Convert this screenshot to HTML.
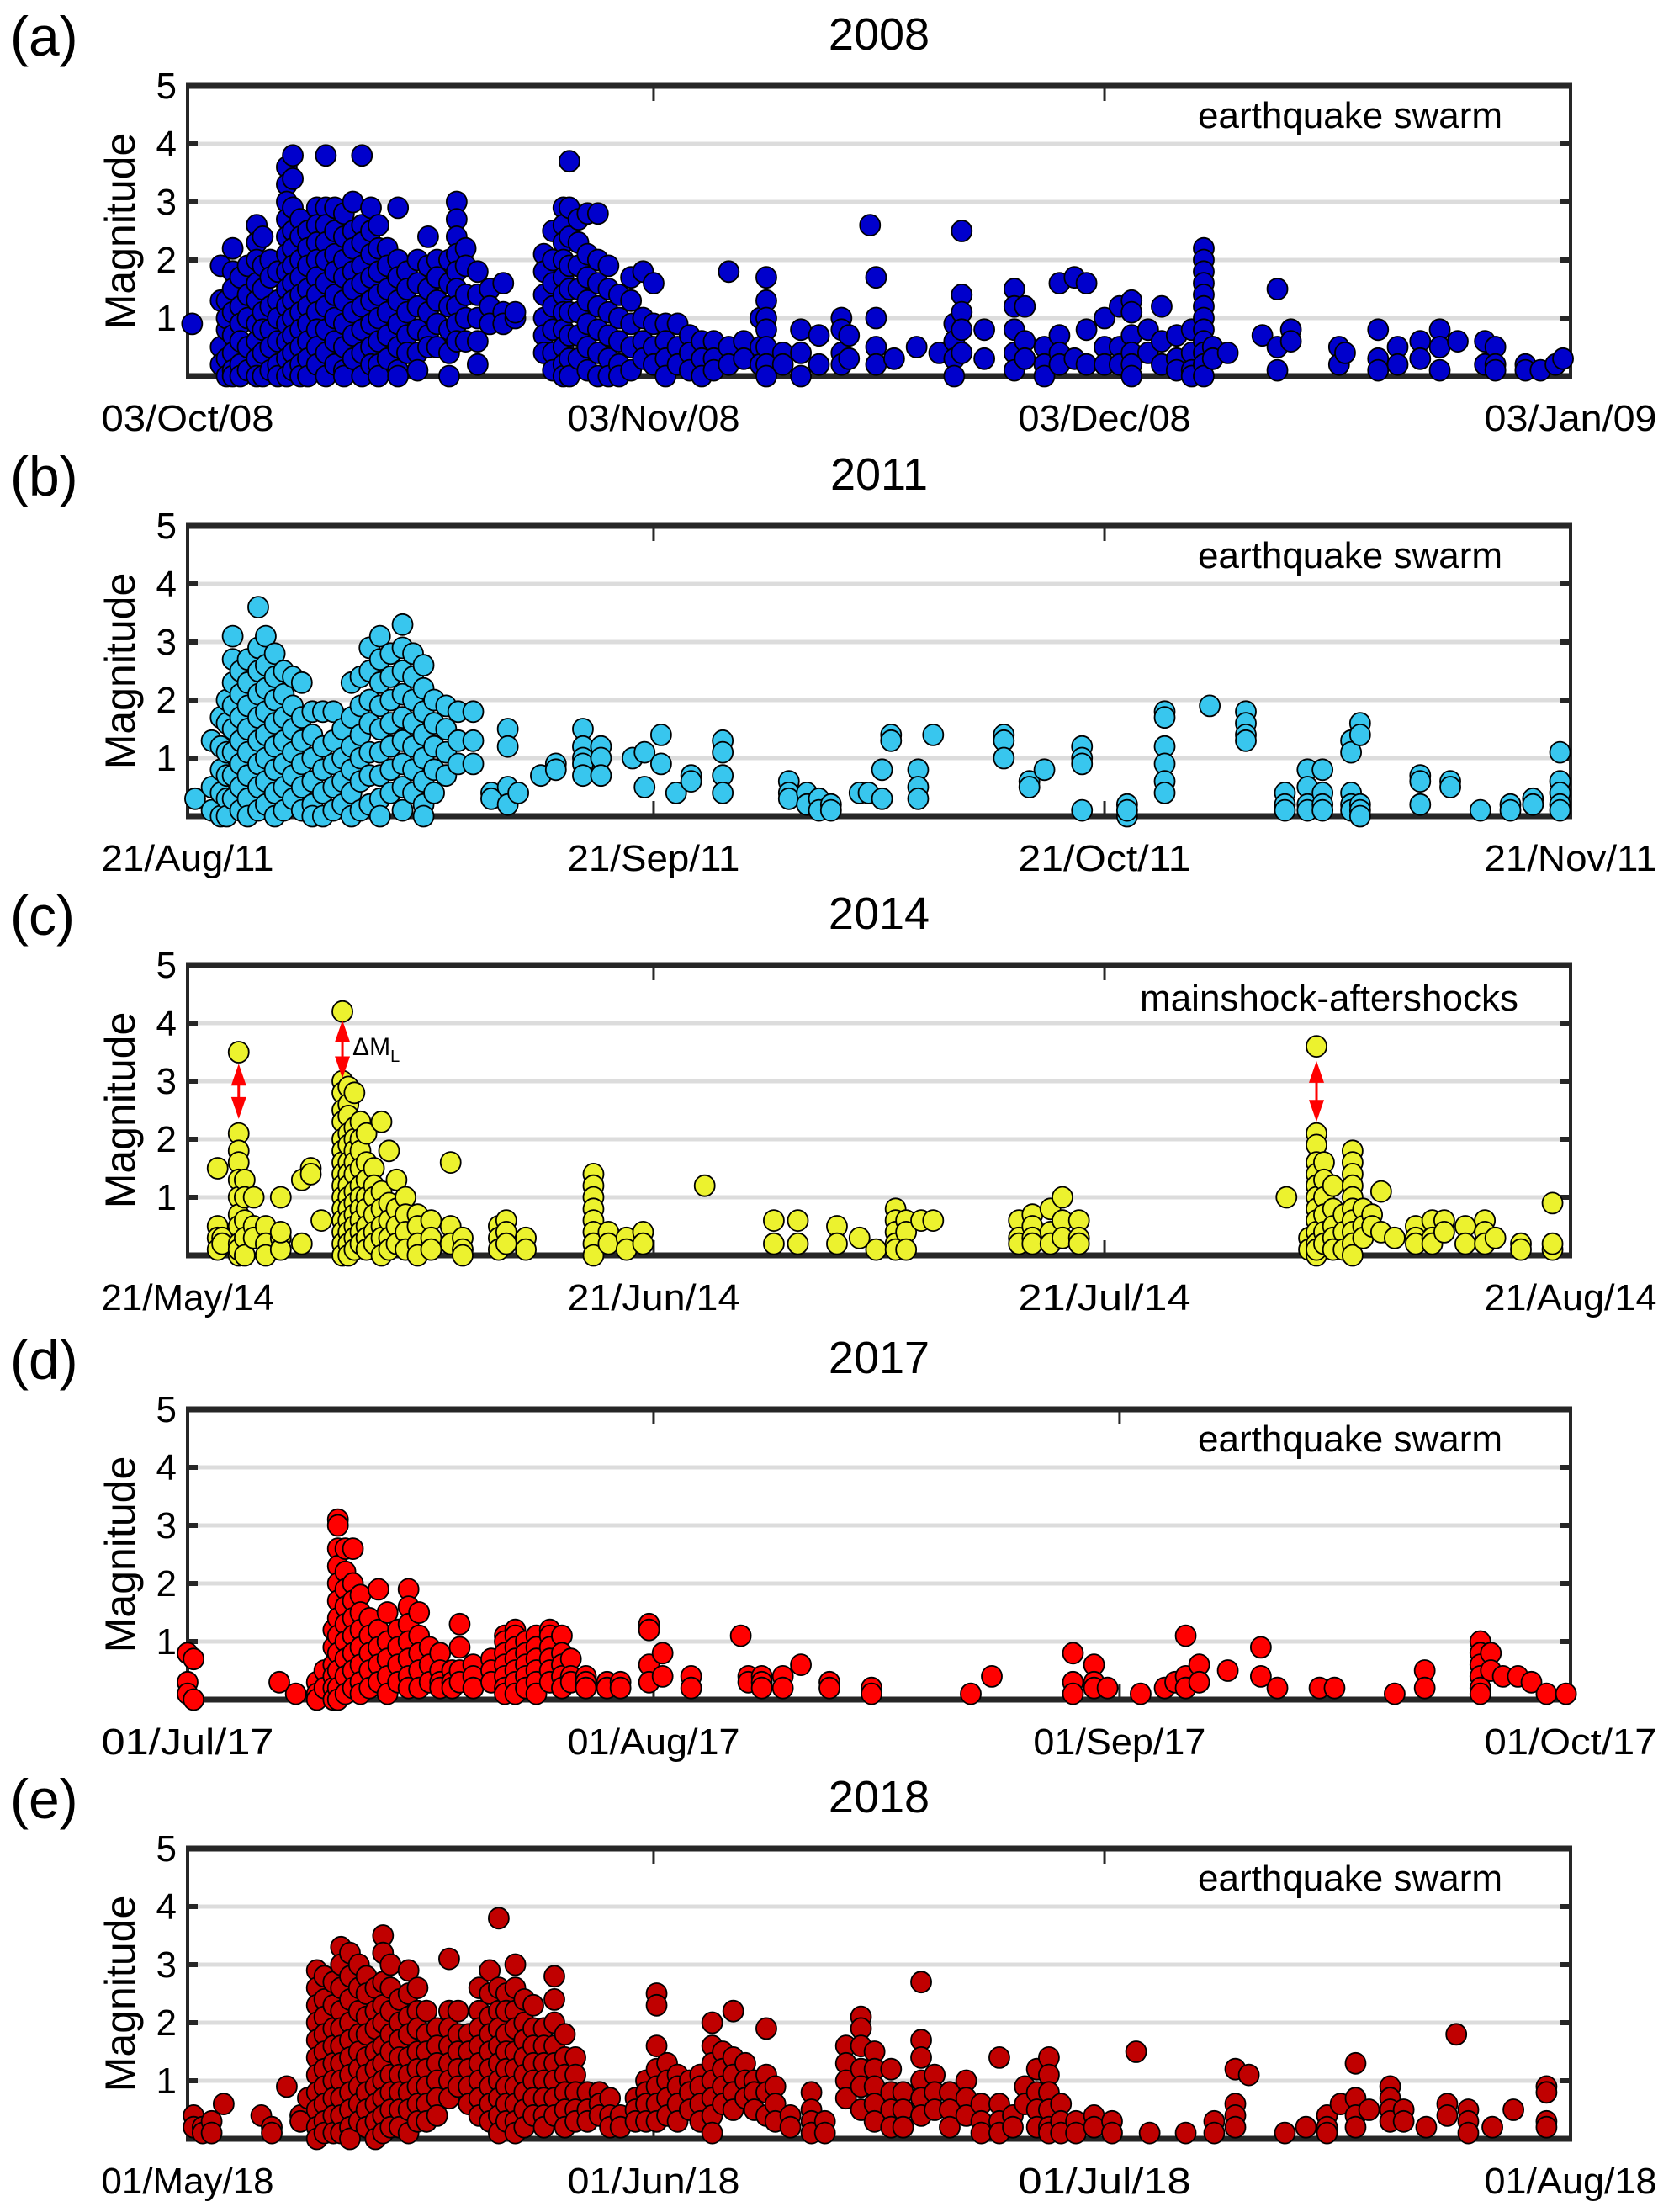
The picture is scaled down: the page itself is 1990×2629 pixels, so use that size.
<!DOCTYPE html>
<html><head><meta charset="utf-8"><style>
html,body{margin:0;padding:0;background:#fff;}
svg{display:block;}
text{font-family:"Liberation Sans Narrow","Liberation Sans",sans-serif;fill:#000;}
</style></head>
<body>
<svg id="fig" width="1990" height="2629" viewBox="0 0 1990 2629" xmlns="http://www.w3.org/2000/svg"></svg>
<script>
// ---------- data (day offset from start date, magnitudes per day-column) ----------
const tickLabelsA = ["03/Oct/08","03/Nov/08","03/Dec/08","03/Jan/09"];
const tickDaysA = [0,31,61,92];
const colDaysA = [0.3,2.2,2.6,3.0,3.5,4.0,4.6,5.0,5.5,6.0,6.6,7.0,7.5,8.0,8.6,9.2,9.8,10.4,11.0,11.6,12.2,12.7,13.3,14.0,14.6,15.3,16.0,16.6,17.4,17.9,18.5,19.3,20.1,21.0,21.8,23.7,24.3,25.0,25.4,26.0,26.6,27.3,28.0,28.7,29.5,30.3,31.0,31.8,32.6,33.4,34.2,35.0,36.0,37.0,38.1,38.5,39.6,40.8,42.0,43.5,44.0,45.4,45.8,47.0,48.5,50.0,51.0,51.5,53.0,55.0,55.7,57.0,58.0,59.0,59.8,61.0,62.0,62.8,63.9,64.8,65.8,66.8,67.6,68.2,69.2,71.5,72.5,73.4,76.6,77.0,79.2,80.5,82.0,83.3,84.5,86.3,87.0,89.0,90.0,91.0,91.5];
const colMagsA = [[0.9],[1.9,1.3,0.5,0.2],[1.3,0.8,0.3,0,1.0],[2.2,1.8,1.5,1.1,0.7,0.4,0.1,0],[1.7,1.2,0.9,0.6,0.2,0],[1.9,1.4,1.0,0.5,0.1],[2.6,2.3,2.0,1.6,1.3,0.9,0.6,0.3,0],[2.4,1.9,1.5,1.1,0.8,0.4,0],[2.0,1.7,1.2,0.8,0.5,0.1],[1.8,1.3,1.0,0.6,0.2,0],[3.6,3.3,3.0,2.7,2.4,2.1,1.8,1.5,1.2,0.9,0.6,0.3,0],[3.8,3.4,2.9,2.5,2.2,1.9,1.6,1.3,1.0,0.7,0.4,0.1],[2.7,2.4,2.0,1.7,1.4,1.1,0.8,0.5,0.2,0],[2.5,2.2,1.9,1.5,1.2,0.9,0.6,0.3,0],[2.9,2.6,2.3,2.0,1.7,1.4,1.1,0.8,0.5,0.2],[3.8,2.9,2.6,2.3,2.0,1.6,1.2,0.8,0.4,0],[2.9,2.5,2.1,1.8,1.4,1.0,0.6,0.2],[2.8,2.4,2.0,1.7,1.3,0.9,0.5,0.1,0],[3.0,2.5,2.2,1.8,1.5,1.1,0.7,0.3],[3.8,2.6,2.3,1.9,1.6,1.2,0.8,0.4,0],[2.9,2.5,2.1,1.7,1.3,0.9,0.5,0.2],[2.6,2.2,1.8,1.4,1.0,0.6,0.2,0],[2.2,1.9,1.5,1.1,0.7,0.3],[2.9,2.0,1.7,1.3,0.9,0.5,0.1,0],[1.8,1.5,1.1,0.7,0.4],[2.0,1.6,1.2,0.8,0.4,0.1],[2.4,1.9,1.5,1.1,0.7,0.5],[2.0,1.7,1.3,0.9,0.5],[2.0,1.6,1.2,0.8,0.4,0],[3.0,2.7,2.4,2.1,1.8,1.5,1.2,0.9,0.6],[2.2,1.9,1.4,1.0,0.6],[1.8,1.4,1.0,0.6,0.2],[1.5,1.2,0.9],[1.6,1.1,0.9],[1.0,1.1],[2.1,1.8,1.4,1.0,0.7,0.4],[2.5,2.0,1.6,1.2,0.8,0.4,0.1],[2.9,2.6,2.3,2.0,1.7,1.4,1.1,0.8,0.5,0.2,0],[3.7,2.9,2.4,1.9,1.5,1.1,0.7,0.3,0],[2.7,2.3,1.9,1.5,1.1,0.7,0.3],[2.8,2.1,1.7,1.3,0.9,0.5,0.1],[2.8,2.0,1.6,1.2,0.8,0.4,0],[1.9,1.5,1.1,0.7,0.3,0],[1.4,1.0,0.6,0.2,0],[1.7,1.3,0.9,0.5,0.1],[1.8,1.0,0.6,0.3],[1.6,0.9,0.5,0.2],[0.9,0.6,0.3,0],[0.9,0.5,0.2],[0.7,0.4,0.1],[0.6,0.3,0],[0.6,0.3,0.1],[1.8,0.5,0.2],[0.6,0.3],[1.0,0.5,0.2],[1.7,1.3,1.0,0.8,0.5,0.2,0],[0.4,0.2],[0.8,0.4,0],[0.7,0.2],[1.0,0.8,0.4,0.2],[0.7,0.3],[2.6],[1.7,1.0,0.5,0.2],[0.3],[0.5],[0.4],[0.9,0.6,0.3,0],[2.5,1.4,1.1,0.8,0.4],[0.8,0.3],[1.5,1.2,0.8,0.4,0.1],[1.2,0.6,0.3],[0.5,0.2,0],[1.6,0.7,0.4,0.2],[1.7,0.3],[1.6,0.8,0.2],[1.0,0.5,0.2],[1.2,0.5,0.2],[1.3,1.1,0.7,0.4,0.2,0],[0.8,0.4],[1.2,0.6,0.2],[0.7,0.3,0.1],[0.8,0.4,0.1,0],[2.2,2.0,1.8,1.6,1.4,1.2,1.0,0.8,0.6,0.4,0.2,0],[0.5,0.3],[0.4],[0.7],[1.5,0.5,0.1],[0.8,0.6],[0.5,0.2],[0.4],[0.8,0.3,0.1],[0.5,0.2],[0.6,0.3],[0.8,0.5,0.1],[0.6],[0.6,0.2],[0.5,0.2,0.1],[0.2,0.1],[0.1],[0.2],[0.3]];

const tickLabelsB = ["21/Aug/11","21/Sep/11","21/Oct/11","21/Nov/11"];
const tickDaysB = [0,31,61,92];
const colDaysB = [0.5,1.6,2.2,2.6,3.0,3.5,4.0,4.7,5.2,5.8,6.4,7.0,7.6,8.3,9.0,9.7,10.3,10.9,11.5,12.1,12.8,13.5,14.3,15.0,15.7,16.4,17.2,18.0,19.0,20.2,21.3,22.0,23.5,24.5,26.3,27.5,29.6,30.4,31.5,32.5,33.5,35.6,40.0,41.2,42.0,42.8,44.7,45.3,46.2,46.8,48.6,49.6,54.3,56.0,57.0,59.5,62.5,65.0,68.0,70.4,73.0,74.5,75.5,77.4,78.0,82.0,84.0,86.0,88.0,89.5,91.3];
const colMagsB = [[0.3],[1.3,0.5,0.1],[1.7,1.2,0.8,0.4,0],[2.0,1.6,1.1,0.7,0.3,0],[3.1,2.7,2.3,1.9,1.5,1.1,0.7,0.3],[2.5,2.1,1.7,1.3,0.9,0.5,0.1],[2.7,2.3,1.9,1.5,1.1,0.7,0.3,0],[3.6,2.9,2.5,2.1,1.7,1.3,0.9,0.5,0.1],[3.1,2.6,2.2,1.8,1.4,1.0,0.6,0.2],[2.8,2.4,2.0,1.6,1.2,0.8,0.4,0],[2.5,2.1,1.7,1.3,0.9,0.5,0.1],[2.4,1.9,1.5,1.1,0.7,0.3],[2.3,1.7,1.3,0.9,0.5,0.1],[1.8,1.4,1.0,0.6,0.2,0],[1.8,1.2,0.8,0.4,0],[1.8,1.3,0.9,0.5,0.1],[1.5,1.0,0.6,0.2],[2.3,1.7,1.2,0.8,0.4,0],[2.4,1.9,1.4,1.0,0.6,0.1],[2.9,2.5,2.0,1.6,1.1,0.7,0.2],[3.1,2.7,2.3,1.9,1.5,1.1,0.7,0.3,0],[2.8,2.4,2.0,1.6,1.2,0.8,0.4],[3.3,2.9,2.5,2.1,1.7,1.3,0.9,0.5,0.1],[2.8,2.4,2.0,1.6,1.2,0.8,0.4],[2.6,2.2,1.8,1.4,1.0,0.6,0.2,0],[2.0,1.6,1.2,0.8,0.4],[1.9,1.5,1.1,0.7],[1.8,1.3,0.9],[1.8,1.3,0.9],[0.4,0.3],[1.5,1.2,0.5,0.2],[0.4],[0.7],[0.9,0.8],[1.5,1.2,1.0,0.9,0.7],[1.2,1.0,0.7],[1.0],[1.1,0.5],[1.4,0.9],[0.4],[0.7,0.6],[1.3,1.1,0.7,0.4],[0.6,0.4,0.3],[0.4,0.2],[0.3,0.1],[0.2,0.1],[0.4],[0.4],[0.8,0.3],[1.4,1.3],[0.8,0.5,0.3],[1.4],[1.4,1.3,1.0],[0.6,0.5],[0.8],[1.2,1.0,0.9,0.1],[0.2,0.0,0.1],[1.8,1.7,1.2,0.9,0.6,0.4],[1.9],[1.8,1.6,1.4,1.3],[0.4,0.2,0.1],[0.8,0.5,0.2,0.1],[0.8,0.4,0.2,0.1],[1.3,1.1,0.4,0.2,0.1],[1.6,1.4,0.2,0.1,0],[0.7,0.6,0.2],[0.6,0.5],[0.1],[0.2,0.1],[0.3,0.2],[1.1,0.6,0.4,0.2,0.1]];

const tickLabelsC = ["21/May/14","21/Jun/14","21/Jul/14","21/Aug/14"];
const tickDaysC = [0,31,61,92];
const colDaysC = [2.0,2.3,3.4,3.8,4.4,5.2,6.2,7.6,8.2,8.9,10.3,10.7,11.1,11.5,11.9,12.4,12.9,13.4,13.9,14.5,15.3,16.2,17.5,18.3,20.7,21.2,22.5,27.0,28.0,29.2,30.3,34.4,39.0,40.6,43.2,44.7,45.8,47.1,47.8,48.8,49.6,55.3,56.2,57.4,58.2,59.3,73.1,74.6,75.1,75.6,76.2,76.9,77.5,78.2,78.8,79.4,80.3,81.7,82.8,83.6,85.0,86.3,87.0,88.7,90.8];
const colMagsC = [[1.5,0.5,0.3,0.1],[0.3,0.2],[3.5,2.1,1.8,1.6,1.3,1.0,0.7,0.5,0.2,0,0.1],[1.3,1.0,0.6,0.3,0],[1.0,0.5,0.3],[0.5,0.2,0],[1.0,0.3,0.1,0.4],[1.3,0.2],[1.5,1.4],[0.6],[4.2,3.0,2.8,2.5,2.3,2.0,1.8,1.6,1.4,1.2,1.0,0.8,0.6,0.4,0.2,0],[2.9,2.6,2.4,2.1,1.9,1.6,1.4,1.2,1.0,0.8,0.6,0.4,0.2,0],[2.8,2.2,2.0,1.8,1.6,1.4,1.1,0.9,0.7,0.5,0.3,0.1],[2.3,2.0,1.8,1.5,1.2,1.0,0.8,0.6,0.4,0.2],[2.1,1.6,1.3,1.0,0.8,0.5,0.3,0.1],[1.5,1.2,1.0,0.7,0.4,0.2],[2.3,1.1,0.8,0.5,0.3,0],[1.8,0.9,0.6,0.3,0.1],[1.3,0.8,0.5,0.2],[1.0,0.7,0.4,0.1],[0.7,0.5,0.2,0],[0.6,0.3,0.1],[1.6,0.5,0.2],[0.3,0.1,0],[0.5,0.3,0.1],[0.6,0.4,0.2],[0.3,0.1],[1.4,1.2,1.0,0.8,0.6,0.4,0.2,0],[0.4,0.2],[0.3,0.1],[0.4,0.2],[1.2],[0.6,0.2],[0.6,0.2],[0.5,0.2],[0.3],[0.1],[0.8,0.6,0.4,0.2,0.1],[0.6,0.4,0.1],[0.6],[0.6],[0.6,0.3,0.2],[0.7,0.5,0.3,0.2],[0.8,0.4,0.2],[1.0,0.6,0.3],[0.6,0.3,0.2],[1.0],[0.3,0.1],[3.6,2.1,1.9,1.6,1.4,1.2,1.0,0.8,0.6,0.4,0.2,0,0.1],[1.6,1.3,1.0,0.7,0.4,0.2],[1.2,0.8,0.5,0.3,0.1],[0.7,0.4,0.1],[1.8,1.6,1.4,1.2,1.0,0.8,0.6,0.4,0.2,0],[0.8,0.5,0.3],[0.7,0.5],[1.1,0.4],[0.3],[0.5,0.3,0.2],[0.6,0.3,0.2],[0.6,0.4],[0.5,0.2],[0.6,0.4,0.2],[0.3],[0.2,0.1],[0.9,0.1,0.2]];
const arrowDaysC = [3.4,10.3,75.1];
const arrowTopC = [3.3,4.05,3.35];
const arrowBotC = [2.35,3.05,2.3];

const tickLabelsD = ["01/Jul/17","01/Aug/17","01/Sep/17","01/Oct/17"];
const tickDaysD = [0,31,62,92];
const colDaysD = [0.0,0.4,6.1,7.2,8.6,9.1,9.7,10.0,10.5,11.0,11.5,12.1,12.7,13.3,14.0,14.7,15.4,16.1,16.8,17.6,18.1,19.0,20.2,21.1,21.8,22.5,23.2,24.1,24.9,25.5,26.5,27.9,28.8,30.7,31.6,33.5,36.8,37.3,38.2,39.6,40.8,42.7,45.5,52.1,53.5,58.9,60.3,61.2,63.4,65.0,65.7,66.4,67.3,69.2,71.4,72.5,75.3,76.3,80.3,82.3,86.0,86.7,87.5,88.5,89.4,90.4,91.7];
const colMagsD = [[0.8,0.3,0.1],[0.7,0],[0.3],[0.1],[0.3,0.1,0],[0.5,0.2],[1.2,0.9,0.6,0.4,0.2,0],[3.1,3.0,2.6,2.3,2.0,1.7,1.4,1.1,0.8,0.5,0.2,0],[2.6,2.2,1.9,1.6,1.3,1.0,0.7,0.4,0.1],[2.6,2.0,1.7,1.4,1.1,0.8,0.5,0.2],[1.8,1.5,1.2,0.9,0.6,0.3,0.1],[1.4,1.1,0.8,0.5,0.2],[1.9,1.2,0.9,0.6,0.3],[1.5,1.0,0.7,0.4,0.1],[1.2,0.9,0.6,0.3],[1.9,1.6,1.3,1.0,0.7,0.4,0.2],[1.5,1.1,0.8,0.5,0.2],[0.9,0.6,0.3],[0.8,0.5,0.3,0.2],[0.5,0.3,0.2],[1.3,0.9,0.5,0.3],[0.6,0.4,0.2],[0.7,0.5,0.3],[1.1,1.0,0.8,0.6,0.4,0.2,0.1],[1.2,1.1,0.9,0.7,0.5,0.3,0.1],[1.0,0.8,0.6,0.4,0.2],[1.1,0.9,0.7,0.5,0.3,0.1],[1.2,1.1,0.9,0.7,0.5,0.3],[1.1,0.8,0.6,0.4,0.2],[0.7,0.4,0.3],[0.4,0.3,0.2],[0.3,0.2],[0.3,0.2],[1.3,1.2,0.6,0.3],[0.8,0.4],[0.4,0.2],[1.1],[0.4,0.3],[0.4,0.3,0.2],[0.4,0.2],[0.6],[0.3,0.2],[0.2,0.1],[0.1],[0.4],[0.8,0.3,0.1],[0.6,0.3,0.2],[0.2],[0.1],[0.2],[0.3],[1.1,0.4,0.2],[0.6,0.3],[0.5],[0.9,0.4],[0.2],[0.2],[0.2],[0.1],[0.5,0.2],[1.0,0.8,0.6,0.4,0.2,0.1],[0.8,0.5],[0.4],[0.4],[0.3],[0.1],[0.1]];

const tickLabelsE = ["01/May/18","01/Jun/18","01/Jul/18","01/Aug/18"];
const tickDaysE = [0,31,61,92];
const colDaysE = [0.4,1.0,1.6,2.4,4.9,5.6,6.6,7.5,8.0,8.6,9.1,9.7,10.2,10.8,11.4,11.9,12.5,13.0,13.5,14.1,14.7,15.3,15.9,16.6,17.4,18.0,18.7,19.4,20.1,20.7,21.2,21.8,22.4,23.0,23.7,24.4,25.1,25.8,26.6,27.4,28.1,28.8,29.8,30.5,31.2,31.9,32.6,33.4,34.1,34.9,35.6,36.3,37.1,37.7,38.5,39.1,40.1,41.5,42.4,43.8,44.8,45.7,46.8,47.6,48.8,49.7,50.7,51.8,52.8,54.0,54.9,55.7,56.5,57.3,58.1,59.1,60.3,61.5,63.1,64.0,66.4,68.3,69.7,70.6,73.0,74.4,75.8,76.7,77.7,78.6,80.0,80.9,82.4,83.8,84.4,85.2,86.8,88.2,90.4];
const colMagsE = [[0.4,0.2],[0.2,0.1],[0.3,0.1],[0.6],[0.4],[0.2,0.1],[0.9],[0.4,0.3],[0.7],[2.9,2.6,2.3,2.0,1.7,1.4,1.1,0.8,0.5,0.2,0],[2.8,2.4,2.1,1.8,1.5,1.2,0.9,0.6,0.3,0.1],[2.7,2.3,1.9,1.6,1.3,1.0,0.7,0.4,0.1],[3.3,3.0,2.6,2.2,1.9,1.6,1.3,1.0,0.7,0.4,0.1],[3.2,2.8,2.4,2.0,1.7,1.4,1.1,0.8,0.5,0.2,0],[3.0,2.6,2.2,1.8,1.5,1.2,0.9,0.6,0.3],[2.8,2.5,2.1,1.8,1.4,1.1,0.8,0.5,0.2],[2.6,2.2,1.9,1.5,1.2,0.9,0.6,0.3,0],[3.5,3.2,2.7,2.3,2.0,1.6,1.3,1.0,0.7,0.4,0.1],[3.0,2.6,2.2,1.8,1.5,1.1,0.8,0.5,0.2],[2.4,2.0,1.7,1.4,1.1,0.8,0.5,0.2],[2.9,2.5,2.1,1.8,1.4,1.1,0.8,0.5,0.1],[2.6,2.2,1.9,1.5,1.2,0.9,0.6,0.3],[2.2,1.8,1.5,1.2,0.9,0.6,0.3],[1.9,1.6,1.3,1.0,0.7,0.4],[3.1,2.2,1.9,1.6,1.3,1.0,0.7],[2.2,1.8,1.5,1.2,0.9],[1.8,1.5,1.2,0.9,0.6],[2.6,2.2,1.9,1.6,1.3,1.0,0.7,0.4],[2.9,2.5,2.1,1.8,1.5,1.2,0.9,0.6,0.3],[3.8,2.6,2.2,1.9,1.6,1.3,1.0,0.7,0.4,0.1],[2.5,2.2,1.8,1.5,1.2,0.9,0.6,0.3],[3.0,2.6,2.2,1.9,1.5,1.2,0.9,0.6,0.3,0.1],[2.4,2.0,1.7,1.4,1.1,0.8,0.5,0.2],[2.3,1.9,1.6,1.3,1.0,0.7,0.4],[1.9,1.6,1.3,1.0,0.7,0.4,0.2],[2.8,2.4,2.0,1.6,1.3,1.0,0.7,0.4],[1.8,1.4,1.1,0.8,0.5,0.2],[1.4,1.1,0.8,0.5,0.3],[0.8,0.5,0.3],[0.8,0.6,0.4],[0.7,0.4,0.2],[0.4,0.2],[0.7,0.5,0.3],[1.0,0.8,0.6,0.3],[2.5,2.3,1.6,1.2,0.9,0.6,0.3],[1.3,1.0,0.7,0.4],[1.1,0.9,0.6,0.3],[1.0,0.8,0.5],[1.1,0.9,0.6,0.3],[2.0,1.6,1.3,1.0,0.7,0.4,0.1],[1.5,1.2,0.9,0.6],[2.2,1.4,1.1,0.8,0.5],[1.3,1.0,0.7],[1.0,0.8,0.5],[1.9,1.1,0.8,0.4],[0.9,0.6,0.3],[0.4,0.2],[0.8,0.5,0.3,0.1],[0.3,0.1],[1.6,1.3,1.0,0.7],[2.1,1.9,1.6,1.2,0.9,0.5],[1.5,1.2,0.9,0.6,0.3],[1.2,0.8,0.5,0.2],[0.8,0.5,0.2],[2.7,1.7,1.4,1.0,0.7,0.4],[1.1,0.8,0.5],[0.8,0.5,0.2],[1.0,0.7,0.4],[0.6,0.3,0.1],[1.4,0.6,0.3,0.1],[0.4,0.2],[0.9,0.6],[1.2,0.8,0.5,0.2],[1.4,1.1,0.8,0.5,0.2,0.1],[0.6,0.3,0.1],[0.3,0.1],[0.4,0.2],[0.3,0.1],[1.5],[0.1],[0.1],[0.3,0.1],[1.2,0.6,0.4,0.2],[1.1],[0.1],[0.2],[0.4,0.2,0.1],[0.6],[1.3,0.7,0.4,0.2],[0.5],[0.9,0.7,0.5,0.3],[0.5,0.3],[0.2],[0.6,0.4],[1.8],[0.5,0.3,0.1],[0.2],[0.5],[0.9,0.8,0.3,0.2]];

// ---------- layout ----------
const NS = "http://www.w3.org/2000/svg";
const svg = document.getElementById("fig");
const L = 223, R = 1867, H = 345, SPAN = 92, YMAX = 5;
function mk(tag, attrs, parent) {
  const e = document.createElementNS(NS, tag);
  for (const k in attrs) e.setAttribute(k, attrs[k]);
  (parent || svg).appendChild(e);
  return e;
}
const panels = [
  {id:"a", year:"2008", top:102, label:"earthquake swarm", color:"#0000cc", days:colDaysA, mags:colMagsA, ticks:tickDaysA, tickLabels:tickLabelsA},
  {id:"b", year:"2011", top:625, label:"earthquake swarm", color:"#38c6ee", days:colDaysB, mags:colMagsB, ticks:tickDaysB, tickLabels:tickLabelsB},
  {id:"c", year:"2014", top:1147, label:"mainshock-aftershocks", color:"#ecf22e", days:colDaysC, mags:colMagsC, ticks:tickDaysC, tickLabels:tickLabelsC},
  {id:"d", year:"2017", top:1675, label:"earthquake swarm", color:"#ff0000", days:colDaysD, mags:colMagsD, ticks:tickDaysD, tickLabels:tickLabelsD},
  {id:"e", year:"2018", top:2197, label:"earthquake swarm", color:"#c00000", days:colDaysE, mags:colMagsE, ticks:tickDaysE, tickLabels:tickLabelsE}
];

panels.forEach(p => {
  const top = p.top, bot = top + H;
  const xs = d => L + d / SPAN * (R - L);
  const ys = m => bot - m / YMAX * H;
  const g = mk("g", {});
  
  

  const pl = mk("text", {x: 12, y: top - 36, "font-size": 66}, g);
  pl.textContent = "(" + p.id + ")";
  
  

  const tt = mk("text", {x: (L + R) / 2, y: top - 43, "font-size": 54, "text-anchor": "middle"}, g);
  tt.textContent = p.year;
  
  

  for (let m = 1; m <= 4; m++) {
    const gl = mk("line", {x1: L, x2: R, y1: ys(m), y2: ys(m), stroke: "#dcdcdc", "stroke-width": 5}, g);
    
    
  }
  for (let m = 1; m <= 5; m++) {
    const yl = mk("text", {x: 210, y: ys(m) + 15, "font-size": 44, "text-anchor": "end", fill: "#222"}, g);
    yl.textContent = String(m);
    
    
    mk("line", {x1: L, x2: L + 12, y1: ys(m), y2: ys(m), stroke: "#262626", "stroke-width": 6}, g);
    mk("line", {x1: R - 12, x2: R, y1: ys(m), y2: ys(m), stroke: "#262626", "stroke-width": 6}, g);
  }
  const yt = mk("text", {x: 0, y: 0, "font-size": 50, "text-anchor": "middle", fill: "#333",
    style: "font-family:'Liberation Sans',sans-serif", transform: "translate(160," + (top + H / 2) + ") rotate(-90)"}, g);
  yt.textContent = "Magnitude";
  
  

  const box = mk("rect", {x: L, y: top, width: R - L, height: H, fill: "none", stroke: "#262626", "stroke-width": 4}, g);
  
  
  mk("line", {x1: L - 2, x2: R + 2, y1: top, y2: top, stroke: "#262626", "stroke-width": 7}, g);
  mk("line", {x1: L - 2, x2: R + 2, y1: bot, y2: bot, stroke: "#262626", "stroke-width": 7}, g);

  p.ticks.forEach((d, i) => {
    if (i > 0 && i < p.ticks.length - 1) {
      mk("line", {x1: xs(d), x2: xs(d), y1: top, y2: top + 18, stroke: "#262626", "stroke-width": 3}, g);
      mk("line", {x1: xs(d), x2: xs(d), y1: bot - 18, y2: bot, stroke: "#262626", "stroke-width": 3}, g);
    }
    const tl = mk("text", {x: xs(d), y: bot + 65, "font-size": 44, "text-anchor": "middle", fill: "#222",
      textLength: 205, lengthAdjust: "spacingAndGlyphs"}, g);
    tl.textContent = p.tickLabels[i];
    
    
  });

  const an = mk("text", {x: p.id === "c" ? 1805 : 1786, y: top + (p.id === "c" ? 54 : 50), "font-size": 44, "text-anchor": "end"}, g);
  an.textContent = p.label;
  
  

  const pg = mk("g", {}, g);
  
  
  p.days.forEach((d, i) => {
    p.mags[i].forEach(m => {
      const c = mk("ellipse", {cx: xs(d), cy: ys(m), rx: 12, ry: 12.5, fill: p.color, stroke: "#000", "stroke-width": 1.8}, pg);
      
      
    });
  });

  if (p.id === "c") {
    arrowDaysC.forEach((d, i) => {
      const x = xs(d), y1 = ys(arrowTopC[i]), y2 = ys(arrowBotC[i]);
      const ag = mk("g", {}, g);
      
      
      mk("line", {x1: x, x2: x, y1: y1 + 10, y2: y2 - 10, stroke: "#ff0000", "stroke-width": 3}, ag);
      mk("polygon", {points: `${x},${y1} ${x-9},${y1+26} ${x+9},${y1+26}`, fill: "#ff0000"}, ag);
      mk("polygon", {points: `${x},${y2} ${x-9},${y2-26} ${x+9},${y2-26}`, fill: "#ff0000"}, ag);
    });
    const dl = mk("text", {x: xs(arrowDaysC[1]) + 12, y: ys(3.45), "font-size": 30}, g);
    dl.textContent = "ΔM";
    
    
    const sub = mk("tspan", {"font-size": 20, dy: 8}, dl);
    sub.textContent = "L";
  }
});
</script>
</body></html>
